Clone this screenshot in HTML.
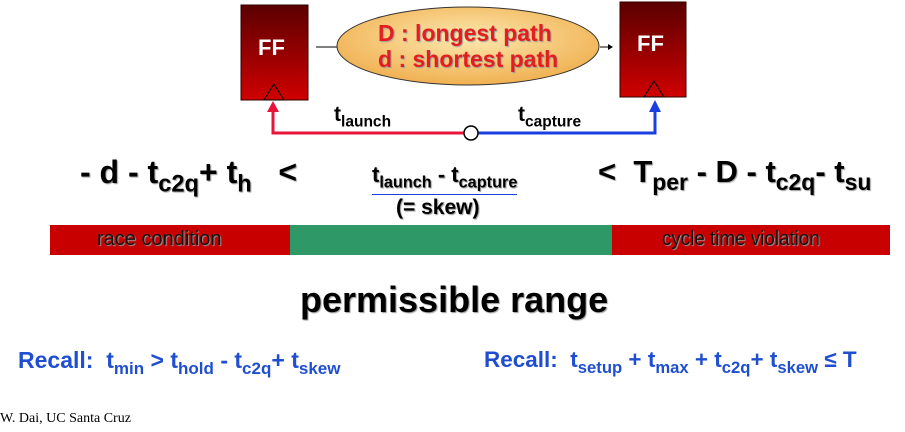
<!DOCTYPE html>
<html><head><meta charset="utf-8"><style>
body{margin:0;width:905px;height:432px;background:#fff;position:relative;overflow:hidden;font-family:"Liberation Sans",sans-serif;}
.a{position:absolute;white-space:nowrap;}
.b{font-weight:bold;}
sub{font-size:74%;vertical-align:-0.35em;}
.sh{text-shadow:1px 1px 1px #999;}
</style></head><body>
<svg class="a" style="left:0;top:0" width="905" height="160">
<defs>
<linearGradient id="ff" x1="0" y1="0" x2="0" y2="1"><stop offset="0" stop-color="#5a0000"/><stop offset="1" stop-color="#d00000"/></linearGradient>
<radialGradient id="el" cx="0.5" cy="0.4" r="0.6"><stop offset="0" stop-color="#fde8b0"/><stop offset="1" stop-color="#f0b050"/></radialGradient>
</defs>
<g>
<rect x="241" y="5" width="67" height="95" fill="url(#ff)" stroke="#300" stroke-width="1"/>
<polygon points="264,100 274,84 284,100" fill="none" stroke="#000"/>
</g>
<g>
<rect x="620" y="2" width="66" height="95" fill="url(#ff)" stroke="#300" stroke-width="1"/>
<polygon points="644,97 654,81 664,97" fill="none" stroke="#000"/>
</g>
<line x1="316" y1="47" x2="337" y2="47" stroke="#000"/>
<line x1="600" y1="47" x2="608" y2="47" stroke="#000"/>
<polygon points="608,44 613,47 608,50" fill="#000"/>
<ellipse cx="468" cy="46" rx="131" ry="39" fill="url(#el)" stroke="#333"/>
<polyline points="465,133 273,133 273,110" fill="none" stroke="#e8143c" stroke-width="3"/>
<polygon points="267,112 273,101 279,112" fill="#e8143c"/>
<polyline points="477,133 655,133 655,110" fill="none" stroke="#1a3fe0" stroke-width="3"/>
<polygon points="649,112 655,100 661,112" fill="#1a3fe0"/>
<circle cx="471" cy="133" r="7" fill="#fff" stroke="#000" stroke-width="1.5"/>
</svg>
<div class="a b" style="left:258px;top:35px;color:#fff;font-size:22px;">FF</div>
<div class="a b" style="left:637px;top:31px;color:#fff;font-size:22px;">FF</div>
<div class="a b sh" style="left:378px;top:20px;color:#e41e1e;font-size:23px;">D : longest path</div>
<div class="a b sh" style="left:378px;top:46px;color:#e41e1e;font-size:23px;">d : shortest path</div>
<div class="a b" style="left:334px;top:103px;font-size:21px;">t<sub>launch</sub></div>
<div class="a b" style="left:518px;top:103px;font-size:21px;">t<sub>capture</sub></div>

<div class="a b sh" style="left:80px;top:154px;font-size:32px;">- d - t<sub>c2q</sub>+ t<sub>h</sub>&nbsp;&nbsp;&nbsp;&lt;</div>
<div class="a b sh" style="left:372px;top:162px;font-size:22px;border-bottom:1px solid #1a3fe0;padding-bottom:1px;">t<sub>launch</sub> - t<sub>capture</sub></div>
<div class="a b sh" style="left:396px;top:196px;font-size:21px;">(= skew)</div>
<div class="a b sh" style="left:598px;top:154px;font-size:31px;">&lt;&nbsp; T<sub>per</sub> - D - t<sub>c2q</sub>- t<sub>su</sub></div>

<div class="a" style="left:50px;top:225px;width:240px;height:30px;background:#c80000;"></div>
<div class="a" style="left:290px;top:225px;width:322px;height:30px;background:#2e9966;"></div>
<div class="a" style="left:612px;top:225px;width:278px;height:30px;background:#c80000;"></div>
<div class="a sh" style="left:97px;top:228px;font-size:20px;color:#111;">race condition</div>
<div class="a sh" style="left:662px;top:228px;font-size:20px;color:#111;transform:scaleX(0.94);transform-origin:left;">cycle time violation</div>

<div class="a b sh" style="left:300px;top:279px;font-size:36px;">permissible range</div>

<div class="a b" style="left:18px;top:347px;font-size:23px;color:#1f4fd0;">Recall:&nbsp; t<sub>min</sub> &gt; t<sub>hold</sub> - t<sub>c2q</sub>+ t<sub>skew</sub></div>
<div class="a b" style="left:484px;top:347px;font-size:22.5px;color:#1f4fd0;">Recall:&nbsp; t<sub>setup</sub> + t<sub>max</sub> + t<sub>c2q</sub>+ t<sub>skew</sub> ≤ T</div>

<div class="a" style="left:0px;top:411px;font-family:'Liberation Serif',serif;font-size:14px;">W. Dai, UC Santa Cruz</div>
</body></html>
